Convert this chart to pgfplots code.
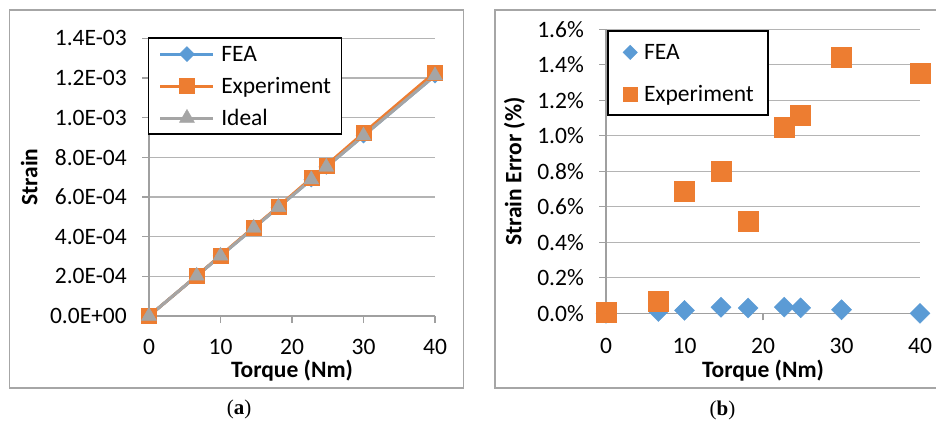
\documentclass[border=0pt]{standalone}
\usepackage{pgfplots}
\pgfplotsset{compat=1.18}
\usepackage{fontspec}
\setmainfont{Carlito}
\newfontfamily\capfont{Liberation Serif}
\definecolor{feablue}{HTML}{5B9BD5}
\definecolor{exporange}{HTML}{ED7D31}
\definecolor{idealgray}{HTML}{A5A5A5}
\definecolor{gridgray}{HTML}{B4B4B4}
\definecolor{axgray}{HTML}{A0A0A0}
\definecolor{framegray}{HTML}{A6A6A6}
\newcommand{\chfont}{\fontsize{23.5bp}{28bp}\selectfont}
\pgfplotsset{
  excel/.style={
    scale only axis,
    clip=false,
    font=\chfont,
    axis lines*=left,
    axis line style={draw=axgray, line width=1.3bp},
    ymajorgrids,
    major grid style={draw=gridgray, line width=1.2bp},
    tick align=outside,
    major tick length=7bp,
    every tick/.style={draw=axgray, line width=1.3bp},
    xmin=0, xmax=40,
    xtick={0,10,20,30,40},
    xticklabels={0,10,20,30,40},
    scaled y ticks=false,
    tick label style={font=\chfont},
    xticklabel style={inner sep=0pt, anchor=north},
    yticklabel style={inner sep=0pt, anchor=east, xshift=-15bp},
    label style={font=\chfont\bfseries},
    legend cell align=left,
  },
  lineimg/.style={legend image code/.code={\path (0bp,-9bp) (0bp,9bp);
    \draw[mark repeat=2, mark phase=2, ##1] plot coordinates {(0bp,0bp) (26.5bp,0bp) (53bp,0bp)};}},
  diaimg/.style={legend image code/.code={\path (0bp,-9bp) (0bp,9bp);
    \draw[##1, mark size=5.1bp] plot coordinates {(7bp,0bp)};}},
  sqimg/.style={legend image code/.code={\path (0bp,-9bp) (0bp,9bp);
    \draw[##1, mark size=7bp] plot coordinates {(7bp,0bp)};}},
}
\begin{document}
\begin{tikzpicture}
% frames
\draw[framegray, line width=1.5bp] (9.5bp,35bp) rectangle (463.3bp,413bp);
\draw[framegray, line width=1.5bp] (937bp,35bp) -- (495bp,35bp) -- (495bp,413bp) -- (937bp,413bp);

% (a)
\begin{axis}[excel, at={(149bp,107bp)}, anchor=south west, width=286bp, height=277.7bp,
  ymin=0, ymax=0.0014,
  ytick={0,0.0002,0.0004,0.0006,0.0008,0.001,0.0012,0.0014},
  yticklabels={0.0E+00,2.0E-04,4.0E-04,6.0E-04,8.0E-04,1.0E-03,1.2E-03,1.4E-03},
  xticklabel style={yshift=-16.3bp},
  xlabel={Torque (Nm)}, ylabel={Strain},
  xlabel style={at={(axis description cs:0.5,-0.198)}, anchor=center},
  ylabel style={at={(axis description cs:-0.4185,0.5)}, anchor=center},
  legend style={at={(-0.0045,1.0036)}, anchor=north west, draw=black, line width=1.5bp, fill=white,
    inner xsep=10.5bp, inner ysep=5.5bp,
    nodes={inner sep=0pt, text height=17.5bp, text depth=2.5bp},
    row sep=11bp, column sep=6.3bp, font=\chfont},
  lineimg,
]
\addplot[feablue, line width=3bp, mark=square*, mark size=5.3bp,
  mark options={rotate=45, fill=feablue, draw=feablue, line width=0.4bp}]
  coordinates {(0,0) (6.67,2.021e-4) (10,3.031e-4) (14.65,4.440e-4) (18.1,5.486e-4) (22.7,6.880e-4) (24.8,7.516e-4) (30,9.092e-4) (40,1.212e-3)};
\addlegendentry{FEA}
\addplot[exporange, line width=3bp, mark=square*, mark size=7.5bp,
  mark options={fill=exporange, draw=exporange, line width=0.4bp}]
  coordinates {(0,0) (6.67,2.022e-4) (10,3.051e-4) (14.65,4.474e-4) (18.1,5.513e-4) (22.7,6.950e-4) (24.8,7.598e-4) (30,9.221e-4) (40,1.2284e-3)};
\addlegendentry{Experiment}
\addplot[idealgray, line width=3bp, mark=triangle*, mark size=8.66bp,
  mark options={fill=idealgray, draw=idealgray, line width=0.4bp}]
  coordinates {(0,0) (6.67,2.021e-4) (10,3.03e-4) (14.65,4.439e-4) (18.1,5.484e-4) (22.7,6.878e-4) (24.8,7.514e-4) (30,9.09e-4) (40,1.212e-3)};
\addlegendentry{Ideal}
\end{axis}

% (b)
\begin{axis}[excel, at={(606bp,109.7bp)}, anchor=south west, width=314bp, height=284bp,
  ymin=0, ymax=1.6,
  ytick={0,0.2,0.4,0.6,0.8,1.0,1.2,1.4,1.6},
  yticklabels={0.0\%,0.2\%,0.4\%,0.6\%,0.8\%,1.0\%,1.2\%,1.4\%,1.6\%},
  xticklabel style={yshift=-17.3bp},
  xlabel={Torque (Nm)}, ylabel={Strain Error (\%)},
  xlabel style={at={(axis description cs:0.5,-0.203)}, anchor=center},
  ylabel style={at={(axis description cs:-0.292,0.4986)}, anchor=center},
  legend style={at={(0.0041,0.9958)}, anchor=north west, draw=black, line width=1.5bp, fill=white,
    inner xsep=14.4bp, inner ysep=11.2bp,
    nodes={inner sep=0pt, text height=17.5bp, text depth=2.5bp},
    row sep=21.6bp, column sep=6.6bp, font=\chfont},
]
\addplot[only marks, mark=square*, mark size=7.07bp,
  mark options={rotate=45, fill=feablue, draw=feablue, line width=0.4bp}, diaimg]
  coordinates {(0,0.0) (6.67,0.01) (10,0.016) (14.65,0.034) (18.1,0.030) (22.7,0.035) (24.8,0.031) (30,0.020) (40,0.0)};
\addlegendentry{FEA}
\addplot[only marks, mark=square*, mark size=10bp,
  mark options={fill=exporange, draw=exporange, line width=0.4bp}, sqimg]
  coordinates {(0,0.004) (6.67,0.066) (10,0.69) (14.65,0.80) (18.1,0.52) (22.7,1.05) (24.8,1.114) (30,1.44) (40,1.35)};
\addlegendentry{Experiment}
\end{axis}

\node[font=\capfont\fontsize{21bp}{24bp}\selectfont] at (239bp,14bp) {(\textbf{a})};
\node[font=\capfont\fontsize{21bp}{24bp}\selectfont] at (722.5bp,13bp) {(\textbf{b})};

\pgfresetboundingbox
\useasboundingbox (0bp,0bp) rectangle (936bp,423bp);
\end{tikzpicture}
\end{document}
